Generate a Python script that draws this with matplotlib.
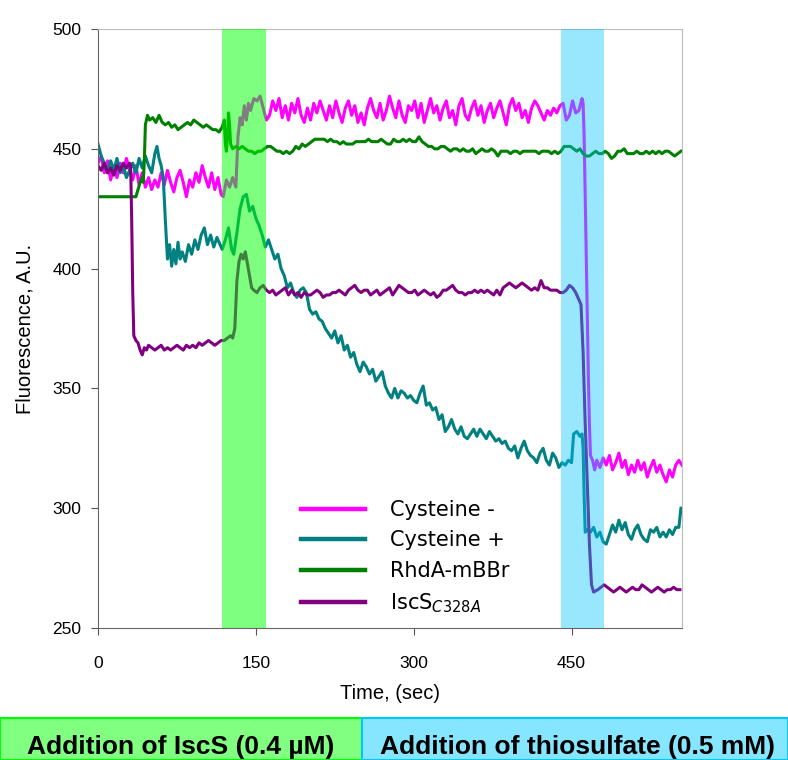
import matplotlib as mpl
mpl.use('Agg')  # Headless mode
import matplotlib.pyplot as plt
from matplotlib.patches import Rectangle

# Cysteine - (no cysteine)
t_cys_minus = [0, 3, 6, 9, 12, 15, 18, 21, 24, 27, 30, 33, 36, 39, 42, 45, 48, 51, 54, 57,
               60, 63, 66, 69, 72, 75, 78, 81, 84, 87, 90, 93, 96, 99, 102, 105, 108, 111, 114, 117,
               119, 122, 125, 128, 131, 133, 135, 137, 139, 141, 143, 145, 148, 151, 154, 157, 160, 163, 166, 169,
               172, 175, 178, 181, 184, 187, 190, 193, 196, 199, 202, 205, 208, 211, 214, 217, 220, 223, 226, 229,
               232, 235, 238, 241, 244, 247, 250, 253, 256, 259, 262, 265, 268, 271, 274, 277, 280, 283, 286, 289,
               292, 295, 298, 301, 304, 307, 310, 313, 316, 319, 322, 325, 328, 331, 334, 337, 340, 343, 346, 349,
               352, 355, 358, 361, 364, 367, 370, 373, 376, 379, 382, 385, 388, 391, 394, 397, 400, 403, 406, 409,
               412, 415, 418, 421, 424, 427, 430, 433, 436, 439, 442, 445, 448, 451, 454, 457, 460, 461, 462, 463,
               464, 465, 466, 467, 468, 470, 472, 474, 477, 480, 483, 486, 489, 492, 495, 498, 501, 504, 507, 510,
               513, 516, 519, 522, 525, 528, 531, 534, 537, 540, 543, 546, 549, 552, 555]
f_cys_minus = [444, 447, 440, 445, 437, 443, 438, 444, 440, 446, 441, 437, 443, 435, 440, 434, 438, 433, 437, 434,
               440, 435, 441, 436, 432, 438, 441, 436, 430, 437, 434, 440, 436, 443, 438, 434, 440, 433, 438, 431,
               430, 437, 434, 438, 434, 455, 463, 460, 468, 462, 469, 466, 471, 470, 472, 467, 462, 464, 470, 466,
               471, 463, 468, 462, 469, 465, 471, 464, 461, 467, 462, 469, 465, 470, 466, 462, 468, 463, 470, 465,
               461, 467, 470, 464, 468, 461, 465, 460, 467, 471, 466, 463, 469, 462, 466, 472, 467, 463, 470, 464,
               461, 468, 466, 470, 463, 469, 461, 466, 471, 465, 468, 462, 467, 470, 463, 466, 460, 468, 471, 464,
               462, 467, 470, 464, 468, 461, 466, 469, 463, 467, 470, 465, 460, 468, 471, 466, 469, 463, 466, 461,
               467, 470, 468, 465, 462, 466, 464, 467, 465, 468, 469, 462, 464, 470, 465, 466, 471, 469, 455, 430,
               405, 380, 355, 335, 322, 320, 316, 320, 317, 321, 318, 322, 316, 319, 323, 317, 320, 314, 318, 315,
               320, 316, 319, 313, 317, 320, 315, 318, 314, 311, 316, 313, 318, 320, 318]

# Cysteine +
t_cys_plus = [0, 3, 6, 9, 12, 15, 18, 21, 24, 27, 30, 33, 36, 39, 42, 45, 48, 51, 54, 56,
              58, 60, 62, 64, 66, 68, 70, 72, 74, 76, 78, 80, 83, 86, 89, 92, 95, 98, 101, 104,
              107, 110, 113, 116, 118, 121, 124, 127, 129, 132, 135, 138, 141, 144, 147, 150, 153, 156, 159, 162,
              165, 168, 171, 174, 177, 180, 183, 186, 189, 192, 195, 198, 201, 204, 207, 210, 213, 216, 219, 222,
              225, 228, 231, 234, 237, 240, 243, 246, 249, 252, 255, 258, 261, 264, 267, 270, 273, 276, 279, 282,
              285, 288, 291, 294, 297, 300, 303, 306, 309, 312, 315, 318, 321, 324, 327, 330, 333, 336, 339, 342,
              345, 348, 351, 354, 357, 360, 363, 366, 369, 372, 375, 378, 381, 384, 387, 390, 393, 396, 399, 402,
              405, 408, 411, 414, 417, 420, 423, 426, 429, 432, 435, 438, 441, 444, 447, 450, 452, 455, 458, 460,
              461, 462, 463, 465, 468, 471, 474, 477, 480, 483, 486, 489, 492, 495, 498, 501, 504, 507, 510, 513,
              516, 519, 522, 525, 528, 531, 534, 537, 540, 543, 546, 549, 552, 554]
f_cys_plus = [452, 447, 444, 440, 445, 441, 446, 440, 443, 438, 441, 444, 440, 446, 442, 447, 443, 440, 448, 451,
              446, 443, 438, 420, 404, 410, 401, 408, 402, 411, 404, 407, 403, 410, 406, 412, 408, 414, 417, 410,
              414, 409, 413, 410, 408, 412, 417, 408, 406, 415, 425, 430, 431, 424, 426, 421, 418, 414, 409, 412,
              408, 404, 406, 400, 397, 392, 394, 390, 388, 391, 392, 390, 383, 381, 382, 379, 378, 375, 373, 371,
              374, 369, 372, 366, 368, 363, 365, 360, 357, 361, 359, 356, 358, 353, 355, 357, 351, 348, 346, 350,
              346, 349, 348, 346, 347, 345, 344, 348, 351, 343, 344, 341, 342, 337, 339, 332, 334, 337, 333, 331,
              334, 330, 329, 331, 333, 330, 333, 331, 329, 332, 330, 328, 329, 327, 328, 325, 324, 326, 321, 325,
              328, 324, 322, 321, 319, 323, 325, 320, 318, 323, 321, 317, 319, 318, 320, 319, 331, 332, 330, 331,
              325, 305, 290, 291, 290, 292, 288, 290, 286, 285, 289, 293, 290, 295, 291, 294, 289, 287, 291, 293,
              289, 287, 286, 291, 290, 292, 288, 290, 288, 291, 289, 292, 292, 300]

# RhdA-mBBr
t_rhda = [0, 10, 20, 30, 36, 38, 40, 42, 43, 44, 45, 47, 49, 52, 55, 58, 61, 64, 67, 70,
          73, 76, 79, 82, 85, 88, 91, 94, 97, 100, 103, 106, 109, 112, 115, 118, 120, 121, 122, 123,
          124, 125, 126, 128, 131, 134, 137, 140, 143, 146, 149, 152, 155, 158, 161, 164, 167, 170, 173, 176,
          179, 182, 185, 188, 191, 194, 197, 200, 203, 206, 209, 212, 215, 218, 221, 224, 227, 230, 233, 236,
          239, 242, 245, 248, 251, 254, 257, 260, 263, 266, 269, 272, 275, 278, 281, 284, 287, 290, 293, 296,
          299, 302, 305, 308, 311, 314, 317, 320, 323, 326, 329, 332, 335, 338, 341, 344, 347, 350, 353, 356,
          359, 362, 365, 368, 371, 374, 377, 380, 383, 386, 389, 392, 395, 398, 401, 404, 407, 410, 413, 416,
          419, 422, 425, 428, 431, 434, 437, 440, 443, 446, 449, 452, 455, 458, 461, 464, 467, 470, 473, 476,
          479, 482, 485, 488, 491, 494, 497, 500, 503, 506, 509, 512, 515, 518, 521, 524, 527, 530, 533, 536,
          539, 542, 545, 548, 551, 554]
f_rhda = [430, 430, 430, 430, 430, 433, 436, 438, 436, 445, 460, 464, 462, 463, 461, 464, 461, 460, 461, 459,
          460, 458, 459, 460, 461, 460, 462, 461, 460, 459, 460, 459, 458, 458, 457, 459, 462, 452, 449, 455,
          465, 460, 452, 450, 451, 450, 451, 450, 449, 449, 448, 449, 449, 450, 451, 451, 450, 449, 449, 448,
          449, 448, 449, 451, 450, 452, 451, 452, 453, 454, 454, 454, 454, 453, 454, 453, 453, 452, 453, 452,
          452, 452, 453, 453, 453, 453, 454, 453, 453, 453, 454, 453, 452, 452, 454, 453, 453, 454, 453, 454,
          453, 453, 455, 453, 452, 451, 451, 450, 450, 451, 451, 450, 449, 450, 450, 449, 450, 449, 449, 450,
          448, 449, 450, 449, 449, 450, 449, 447, 449, 449, 449, 448, 449, 449, 448, 449, 449, 449, 449, 449,
          448, 449, 449, 449, 448, 449, 448, 449, 451, 451, 451, 450, 449, 450, 448, 447, 447, 448, 449, 448,
          448, 449, 448, 446, 447, 449, 449, 450, 448, 448, 448, 449, 448, 448, 449, 448, 449, 448, 449, 448,
          449, 449, 448, 447, 448, 449]

# IscS C328A
t_iscs = [0, 3, 6, 9, 12, 15, 18, 21, 24, 27, 30, 31, 32, 33, 34, 36, 38, 40, 42, 44,
          46, 48, 51, 54, 57, 60, 63, 66, 69, 72, 75, 78, 81, 84, 87, 90, 93, 96, 99, 102,
          105, 108, 111, 114, 117, 120, 123, 126, 128, 130, 132, 134, 136, 138, 140, 142, 144, 146, 148, 151,
          154, 157, 160, 163, 166, 169, 172, 175, 178, 181, 184, 187, 190, 193, 196, 199, 202, 205, 208, 211,
          214, 217, 220, 223, 226, 229, 232, 235, 238, 241, 244, 247, 250, 253, 256, 259, 262, 265, 268, 271,
          274, 277, 280, 283, 286, 289, 292, 295, 298, 301, 304, 307, 310, 313, 316, 319, 322, 325, 328, 331,
          334, 337, 340, 343, 346, 349, 352, 355, 358, 361, 364, 367, 370, 373, 376, 379, 382, 385, 388, 391,
          394, 397, 400, 403, 406, 409, 412, 415, 418, 421, 424, 427, 430, 433, 436, 439, 442, 445, 448, 451,
          454, 457, 459, 461, 463, 465, 467, 469, 471, 475, 478, 481, 484, 487, 490, 493, 496, 499, 502, 505,
          508, 511, 514, 517, 520, 523, 526, 529, 532, 535, 538, 541, 544, 547, 550, 553]
f_iscs = [443, 441, 444, 440, 442, 439, 443, 441, 444, 442, 444, 443, 420, 390, 372, 370, 369, 366, 364, 367,
          366, 368, 367, 366, 367, 368, 366, 367, 366, 367, 368, 367, 366, 368, 367, 368, 367, 369, 368, 369,
          370, 369, 368, 369, 370, 370, 371, 372, 371, 375, 395, 403, 406, 404, 407, 402, 397, 392, 391, 390,
          392, 393, 391, 390, 391, 389, 390, 391, 392, 389, 391, 389, 390, 388, 390, 389, 389, 390, 391, 390,
          388, 389, 389, 390, 390, 391, 390, 389, 391, 392, 393, 391, 390, 391, 391, 389, 390, 391, 389, 390,
          391, 392, 389, 391, 393, 392, 391, 390, 390, 391, 389, 390, 391, 390, 389, 390, 388, 389, 391, 391,
          392, 393, 391, 390, 390, 389, 390, 390, 391, 390, 391, 390, 391, 390, 389, 391, 389, 392, 393, 394,
          393, 392, 393, 394, 393, 392, 391, 392, 391, 395, 392, 392, 391, 391, 391, 390, 390, 391, 393, 392,
          390, 387, 385, 365, 335, 310, 285, 268, 265, 266, 267, 268, 267, 266, 265, 266, 267, 266, 265, 266,
          267, 266, 266, 268, 267, 266, 265, 266, 267, 266, 265, 266, 266, 267, 266, 266]

plt.rcParams['font.family'] = ['Liberation Sans', 'DejaVu Sans']

fig = plt.figure(figsize=(7.88, 7.6), dpi=100)
ax = fig.add_axes([0.1244, 0.1737, 0.7411, 0.7881])

lw = 2.2
ax.plot(t_cys_minus, f_cys_minus, color='#ff00ff', lw=lw, label='Cysteine -')
ax.plot(t_cys_plus, f_cys_plus, color='#008080', lw=lw, label='Cysteine +')
ax.plot(t_rhda, f_rhda, color='#008000', lw=lw, label='RhdA-mBBr')
ax.plot(t_iscs, f_iscs, color='#800080', lw=lw, label='IscS$_{C328A}$')

# additions: IscS and thiosulfate
ax.axvspan(118, 160, color='#00ff00', alpha=0.5, lw=0, zorder=5)
ax.axvspan(440, 481, color='#00c4ff', alpha=0.4, lw=0, zorder=5)

ax.set_xlim(0, 555)
ax.set_ylim(250, 500)
ax.set_xticks([0, 150, 300, 450])
ax.set_yticks([250, 300, 350, 400, 450, 500])
ax.tick_params(direction='out', length=5, color='#555555', labelsize=12.5)
ax.tick_params(axis='x', pad=15)
ax.tick_params(axis='y', pad=7)
for side in ['left', 'bottom']:
    ax.spines[side].set_color('#666666')
for side in ['top', 'right']:
    ax.spines[side].set_color('#bbbbbb')
ax.set_xlabel('Time, (sec)', fontsize=14.5)
ax.set_ylabel('Fluorescence, A.U.', fontsize=14.5)
ax.xaxis.set_label_coords(0.5, -0.093)
ax.yaxis.set_label_coords(-0.108, 0.5)

leg = ax.legend(loc='upper left', bbox_to_anchor=(0.315, 0.245), frameon=False,
                prop={'family': 'DejaVu Sans', 'size': 15},
                handlelength=3.1, handletextpad=1.2, labelspacing=0.5)
for h in leg.get_lines():
    h.set_linewidth(3.2)

# labels under the plot
fig.patches.append(Rectangle((0.0, 0.0), 362 / 788, 42 / 760, transform=fig.transFigure,
                             facecolor='#80ff80', edgecolor='#00ff00', lw=1.5))
fig.patches.append(Rectangle((362 / 788, 0.0), 426 / 788, 42 / 760, transform=fig.transFigure,
                             facecolor='#87e6ff', edgecolor='#00c8ff', lw=1.5))
fig.text(181 / 788, 13 / 760, 'Addition of IscS (0.4 µM)', ha='center', va='center',
         fontsize=19, fontweight='bold')
fig.text(577 / 788, 13 / 760, 'Addition of thiosulfate (0.5 mM)', ha='center', va='center',
         fontsize=19, fontweight='bold')

fig.savefig('out.png', dpi=100)
